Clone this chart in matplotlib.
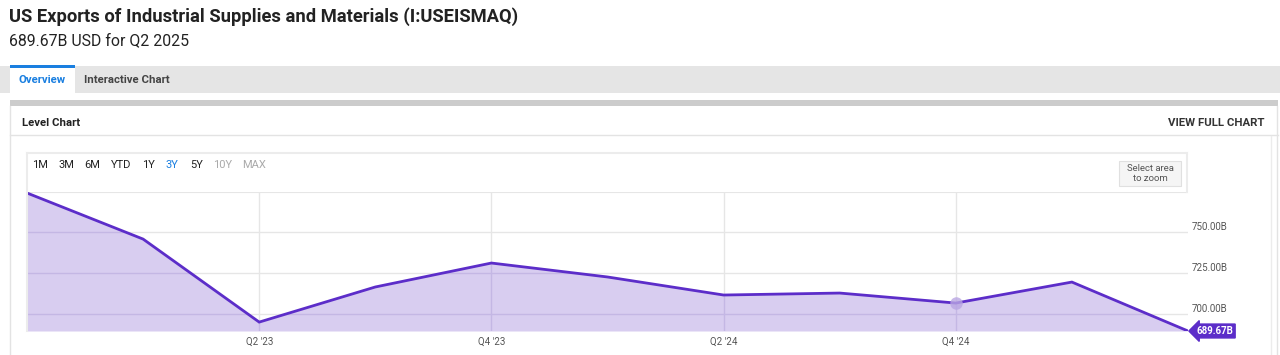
import matplotlib
matplotlib.use("Agg")
import matplotlib.pyplot as plt
from matplotlib.patches import Rectangle
import numpy as np

plt.rcParams['font.family'] = ['Roboto', 'DejaVu Sans']

# datos (miles de millones USD)
quarters = ["Q4 '22", "Q1 '23", "Q2 '23", "Q3 '23", "Q4 '23", "Q1 '24",
            "Q2 '24", "Q3 '24", "Q4 '24", "Q1 '25", "Q2 '25"]
values = [773.8, 745.7, 695.1, 716.5, 731.1, 722.6, 711.6, 712.8, 706.7, 719.5, 689.67]
xtick_labels = ["Q2 '23", "Q4 '23", "Q2 '24", "Q4 '24"]
ytick_values = [700, 725, 750]
ranges = ["1M", "3M", "6M", "YTD", "1Y", "3Y", "5Y", "10Y", "MAX"]
title = "US Exports of Industrial Supplies and Materials (I:USEISMAQ)"
subtitle = "689.67B USD for Q2 2025"

W, H = 1280, 355
purple = "#5c2dc9"
fill_col = "#d8cdf0"
grid_col = "#e6e6e6"

fig = plt.figure(figsize=(W / 100, H / 100), dpi=100)

def fx(x):
    return x / W

def fy(y):
    return 1 - y / H

def rect(x0, y0, x1, y1, **kw):
    fig.add_artist(Rectangle((fx(x0), fy(y1)), fx(x1) - fx(x0), fy(y0) - fy(y1),
                             transform=fig.transFigure, **kw))

def line(x0, y0, x1, y1, **kw):
    fig.add_artist(plt.Line2D([fx(x0), fx(x1)], [fy(y0), fy(y1)],
                              transform=fig.transFigure, **kw))

# cabecera
fig.text(fx(9), fy(17), title, fontsize=13.2, fontweight="bold", color="#222222", va="center")
fig.text(fx(9), fy(41), subtitle, fontsize=11.4, color="#222222", va="center")

# pestañas
rect(0, 66, 1280, 93, color="#e5e5e5", lw=0)
rect(10, 66, 75, 93, color="white", lw=0)
rect(10, 65, 75, 68, color="#1a7fe0", lw=0)
fig.text(fx(42.5), fy(80), "Overview", fontsize=8.2, fontweight="bold", color="#1a7fe0", ha="center", va="center")
fig.text(fx(126.5), fy(80), "Interactive Chart", fontsize=8.2, fontweight="bold", color="#444444", ha="center", va="center")

# panel
rect(10, 100, 1278, 106, color="#cccccc", lw=0)
line(10, 106, 10, 355, color="#e3e3e3", lw=1)
line(1277, 106, 1277, 355, color="#e3e3e3", lw=1)
line(10, 135, 1278, 135, color="#e3e3e3", lw=1)
fig.text(fx(22), fy(123), "Level Chart", fontsize=8.2, fontweight="bold", color="#222222", va="center")
fig.text(fx(1264), fy(123), "VIEW FULL CHART", fontsize=8.2, fontweight="bold", color="#333333", ha="right", va="center")

# marco del grafico
line(27, 153, 1187, 153, color="#ececec", lw=1.5)
line(27, 153, 27, 331, color="#ececec", lw=1.5)
line(1187, 153, 1187, 192, color="#ececec", lw=1.5)
line(1271, 136, 1271, 355, color="#ececec", lw=1)

range_x = [40, 66, 92, 121, 148, 172, 197, 223, 254]
for lab, x in zip(ranges, range_x):
    col = "#222222"
    if lab == "3Y":
        col = "#1a7fe0"
        rect(x - 6, 152, x + 6, 154, color="#1a7fe0", lw=0)
    elif lab in ("10Y", "MAX"):
        col = "#aaaaaa"
    fig.text(fx(x), fy(165), lab, fontsize=8, color=col, ha="center", va="center")

rect(1119, 161, 1181, 186, facecolor="#f5f5f5", edgecolor="#e0e0e0", lw=0.8)
fig.text(fx(1150), fy(173.5), "Select area\nto zoom", fontsize=6.8, color="#555555",
         ha="center", va="center", linespacing=1.1)

# area del grafico
ax = fig.add_axes([fx(27), fy(331), fx(1188) - fx(27), fy(192) - fy(331)])
x = np.arange(len(values))
ymin, ymax = values[-1], 774.4
ax.set_xlim(0, len(values) - 1)
ax.set_ylim(ymin, ymax)
area = ax.fill_between(x, values, ymin, color=fill_col, lw=0, zorder=2)
ax.plot(x, values, color=purple, lw=2, zorder=3, solid_joinstyle="miter")
clip = (area.get_paths()[0], ax.transData)

for yv in ytick_values:
    ax.axhline(yv, color=grid_col, lw=1, zorder=1)
    g = ax.axhline(yv, color="#c4b7e4", lw=1, zorder=2.5)
    g.set_clip_path(*clip)
    ax.annotate(f"{yv:.2f}B", xy=(1, yv), xycoords=("axes fraction", "data"),
                xytext=(3, 3.5), textcoords="offset points", fontsize=7, color="#555555",
                va="center", ha="left")
ax.axhline(ymax, color=grid_col, lw=1.5, zorder=1)

for lab in xtick_labels:
    i = quarters.index(lab)
    ax.axvline(i, color=grid_col, lw=1, zorder=1)
    g = ax.axvline(i, color="#c4b7e4", lw=1, zorder=2.5)
    g.set_clip_path(*clip)
    ax.annotate(lab, xy=(i, 0), xycoords=("data", "axes fraction"), xytext=(0, -8),
                textcoords="offset points", fontsize=7, color="#555555", ha="center", va="center")

# punto resaltado Q4 '24
i4 = quarters.index("Q4 '24")
ax.plot([i4], [values[i4]], "o", ms=9, color="#b9a6e3", alpha=0.8, zorder=4, mec="none")

# etiqueta del ultimo valor
ax.annotate(f"{values[-1]:.2f}B", xy=(1, values[-1]), xycoords=("axes fraction", "data"),
            xytext=(6, 0), textcoords="offset points", fontsize=7, fontweight="bold",
            color="white", va="center", ha="left",
            bbox=dict(boxstyle="larrow,pad=0.2", fc=purple, ec=purple))

for s in ax.spines.values():
    s.set_visible(False)
ax.set_xticks([])
ax.set_yticks([])
ax.patch.set_alpha(0)

fig.savefig("out.png", dpi=100)
